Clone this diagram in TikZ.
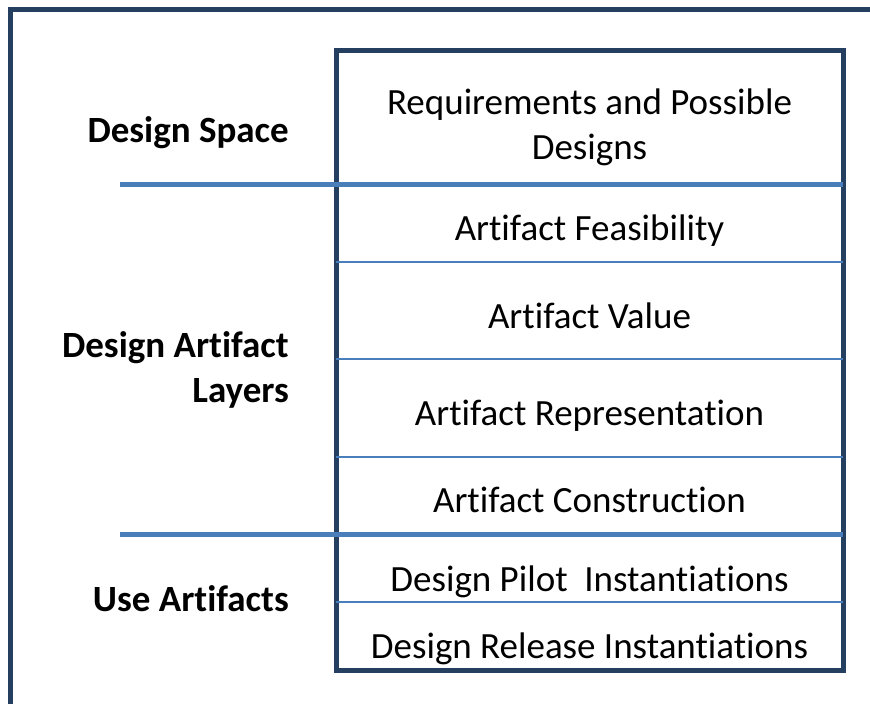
\documentclass[tikz,border=0pt]{standalone}
\usepackage{fontspec}
\setmainfont{Carlito}[Ligatures=NoCommon]
\definecolor{framenavy}{HTML}{243F60}
\definecolor{layerblue}{HTML}{4A7EBB}
\begin{document}
\begin{tikzpicture}[x=1pt,y=1pt]
\tikzstyle{every node}+=[inner sep=0pt]
\tikzstyle{layer}=[anchor=base,font=\fontsize{37}{45}\selectfont]
\tikzstyle{group}=[anchor=base east,font=\fontsize{37}{45}\selectfont\bfseries]
\useasboundingbox (0,0) rectangle (870,-704);

% outer frame and layer box
\draw [framenavy, line width=5pt] (10.5,-704) -- (10.5,-9.5) -- (870,-9.5);
\draw [framenavy, line width=5pt] (336,-50) rectangle (843,-670);

% group separators
\draw [layerblue, line width=5pt] (120,-184) -- (843,-184);
\draw [layerblue, line width=5pt] (120,-534) -- (843,-534);

% layer separators
\draw [layerblue, line width=2pt] (336,-262) -- (843,-262);
\draw [layerblue, line width=2pt] (336,-359) -- (843,-359);
\draw [layerblue, line width=2pt] (336,-457) -- (843,-457);
\draw [layerblue, line width=2pt] (336,-602) -- (843,-602);

% layers
\draw (589.5,-114) node[layer] (req) {Requirements and Possible};
\draw (589.5,-159) node[layer] (reqb) {Designs};
\draw (589.5,-240) node[layer] (feas) {Artifact Feasibility};
\draw (589.5,-328) node[layer] (value) {Artifact Value};
\draw (589.5,-425) node[layer] (repr) {Artifact Representation};
\draw (589.5,-512) node[layer] (constr) {Artifact Construction};
\draw (589.5,-591) node[layer] (pilot) {Design Pilot\ \ Instantiations};
\draw (589.5,-658) node[layer] (release) {Design Release Instantiations};

% groups
\draw (289,-142) node[group] (space) {Design Space};
\draw (289,-357) node[group] (artifact) {Design Artifact};
\draw (289,-402) node[group] (artifactb) {Layers};
\draw (289,-611) node[group] (use) {Use Artifacts};
\end{tikzpicture}
\end{document}
